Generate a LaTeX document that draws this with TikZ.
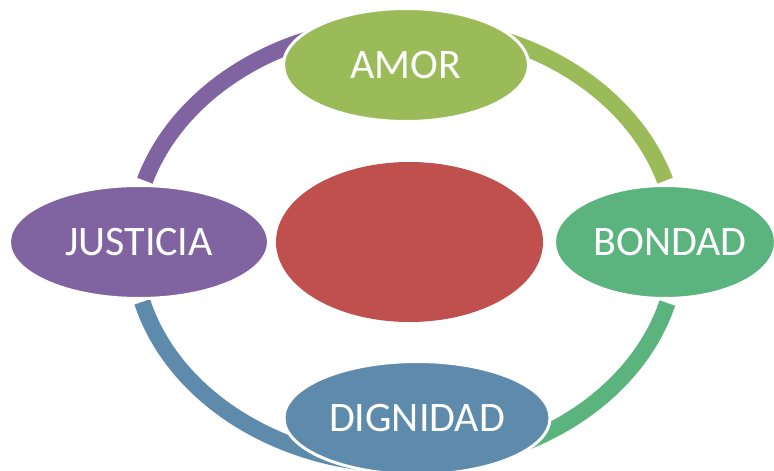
\documentclass[tikz,border=0pt]{standalone}
\usepackage{fontspec}
\setmainfont{Carlito}
\usetikzlibrary{shapes.geometric}

\definecolor{amorgreen}{HTML}{9BBB59}
\definecolor{bondadgreen}{HTML}{5BB37D}
\definecolor{dignidadblue}{HTML}{5E8BAC}
\definecolor{justiciapurple}{HTML}{8064A2}
\definecolor{centrered}{HTML}{C0504D}

\begin{document}
\begin{tikzpicture}[x=1pt, y=-1pt,
    value/.style={ellipse, draw=white, line width=3pt, inner sep=0pt, text=white,
        font=\fontsize{42}{50}\selectfont},
    ringarc/.style={line width=16.5pt}]

    \useasboundingbox (0,0) rectangle (774,471);
    \clip (0,0) rectangle (774,471);

    % Ring centre
    \coordinate (ring) at (405,245);

    % Ring arcs between the values
    \draw[ringarc, justiciapurple] ([shift={(197:272 and 220)}]ring)
        arc[start angle=197, end angle=255, x radius=272, y radius=220];
    \draw[ringarc, amorgreen] ([shift={(285:272 and 220)}]ring)
        arc[start angle=285, end angle=343, x radius=272, y radius=220];
    \draw[ringarc, bondadgreen] ([shift={(15.3:272 and 220)}]ring)
        arc[start angle=15.3, end angle=72, x radius=272, y radius=220];
    \draw[ringarc, dignidadblue] ([shift={(100:272 and 220)}]ring)
        arc[start angle=100, end angle=165, x radius=272, y radius=220];

    % Centre
    \node[ellipse, fill=centrered, inner sep=0pt, minimum width=267pt, minimum height=160pt]
        (centre) at (409.5,242) {};

    % Values
    \node[value, fill=amorgreen, minimum width=245pt, minimum height=113pt]
        (amor) at (406,65) {AMOR};
    \node[value, fill=bondadgreen, minimum width=221pt, minimum height=113pt]
        (bondad) at (665,242) {\makebox[0pt]{\hspace{10pt}BONDAD}};
    \node[value, fill=dignidadblue, minimum width=266pt, minimum height=113pt]
        (dignidad) at (417,418) {DIGNIDAD};
    \node[value, fill=justiciapurple, minimum width=259pt, minimum height=113pt]
        (justicia) at (139,242) {JUSTICIA};

\end{tikzpicture}
\end{document}
